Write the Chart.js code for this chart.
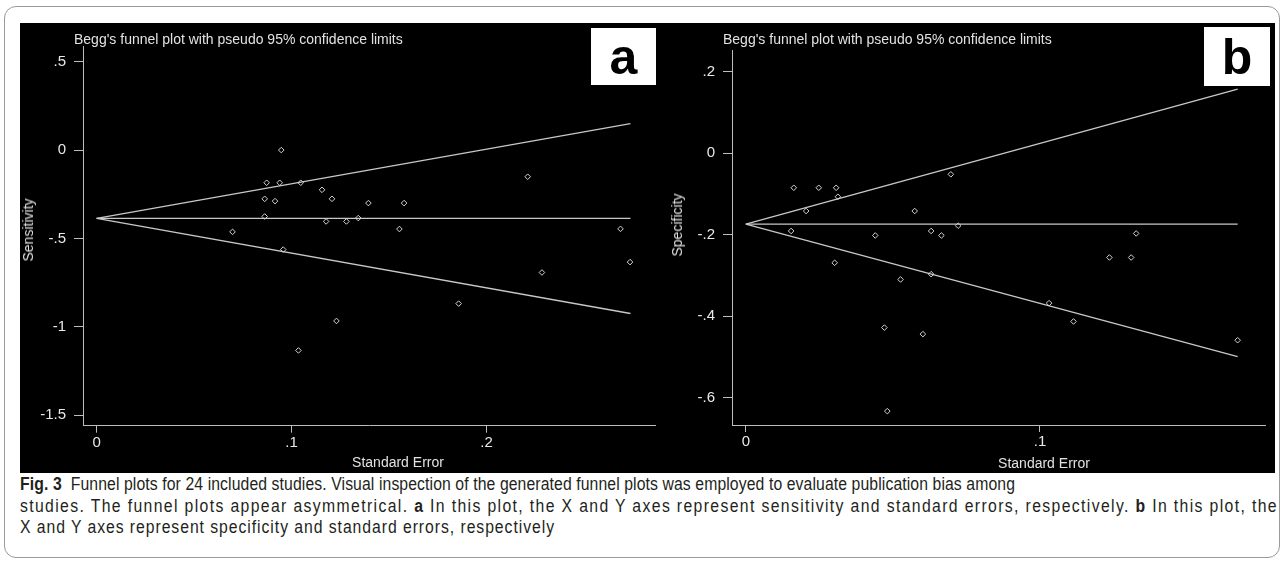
<!DOCTYPE html>
<html>
<head>
<meta charset="utf-8">
<script src="https://cdn.jsdelivr.net/npm/chart.js@4.4.0/dist/chart.umd.min.js"></script>
<style>
html, body { margin: 0; padding: 0; background: #fff; }
body { width: 1287px; height: 566px; position: relative; overflow: hidden; font-family: "Liberation Sans", Arial, sans-serif; }
#frame { position: absolute; left: 4px; top: 6px; width: 1276px; height: 552px; border: 1px solid #9a9a9a; border-radius: 12px; box-sizing: border-box; }
#figure { position: absolute; left: 20px; top: 23px; width: 1255px; height: 450px; background: #000; }
#figure canvas { position: absolute; top: 0; }
#chartA { left: 0; }
#chartB { left: 640px; }
.ptitle { position: absolute; color: #e2e2e2; font-size: 14px; line-height: 14px; white-space: nowrap; }
.xtitle { position: absolute; color: #e2e2e2; font-size: 14px; line-height: 14px; white-space: nowrap; transform: translate(-50%, -50%); }
.ytitle { position: absolute; color: #e2e2e2; font-size: 14px; line-height: 14px; white-space: nowrap; transform: translate(-50%, -50%) rotate(-90deg); }
.tag { position: absolute; background: #fff; color: #000; font-weight: bold; font-size: 50px; display: flex; align-items: center; justify-content: center; }
#caption { position: absolute; left: 20px; top: 474px; font-family: "Liberation Sans", Arial, sans-serif; font-size: 17.5px; line-height: 21.5px; color: #231f20; }
#caption .line { display: block; white-space: nowrap; width: max-content; transform-origin: 0 50%; }
</style>
</head>
<body>
<div id="frame"></div>
<div id="figure">
  <canvas id="chartA" width="640" height="450"></canvas>
  <canvas id="chartB" width="615" height="450"></canvas>
  <div class="ptitle" style="left:54px; top:9px;">Begg's funnel plot with pseudo 95% confidence limits</div>
  <div class="ptitle" style="left:703px; top:9px;">Begg's funnel plot with pseudo 95% confidence limits</div>
  <div class="tag" style="left:571px; top:5px; width:65px; height:57px;">a</div>
  <div class="tag" style="left:1184px; top:4px; width:66px; height:59px;">b</div>
  <div class="xtitle" style="left:378px; top:439px;">Standard Error</div>
  <div class="xtitle" style="left:1024px; top:440px;">Standard Error</div>
  <div class="ytitle" style="left:8px; top:207px;">Sensitivity</div>
  <div class="ytitle" style="left:657px; top:202px;">Specificity</div>
</div>
<div id="caption">
  <span class="line"><b>Fig. 3</b>&nbsp; Funnel plots for 24 included studies. Visual inspection of the generated funnel plots was employed to evaluate publication bias among</span>
  <span class="line">studies. The funnel plots appear asymmetrical. <b>a</b> In this plot, the X and Y axes represent sensitivity and standard errors, respectively. <b>b</b> In this plot, the</span>
  <span class="line">X and Y axes represent specificity and standard errors, respectively</span>
</div>
<script>
// Panel a: sensitivity vs standard error
const seA = [0.0947, 0.0872, 0.0939, 0.1047, 0.1156, 0.0862, 0.0915, 0.1207, 0.1394, 0.1577, 0.0862, 0.1177,
             0.1281, 0.1342, 0.0697, 0.0957, 0.1553, 0.1857, 0.1230, 0.2211, 0.2687, 0.2736, 0.2284, 0.1035];
const sensA = [0.000, -0.185, -0.185, -0.185, -0.225, -0.276, -0.289, -0.276, -0.300, -0.300, -0.376, -0.404,
               -0.404, -0.385, -0.463, -0.563, -0.447, -0.869, -0.967, -0.151, -0.446, -0.634, -0.693, -1.134];
const pooledA = -0.387;
const seMaxA = 0.2738;
const upperEndA = 0.150;
const lowerEndA = -0.925;
const xTicksA = [0, 0.1, 0.2];
const yTicksA = [-1.5, -1, -0.5, 0, 0.5];

// Panel b: specificity vs standard error
const seB = [0.0163, 0.0248, 0.0307, 0.0313, 0.0205, 0.0697, 0.0574, 0.0154, 0.0440, 0.0630, 0.0665, 0.0722,
             0.1327, 0.0302, 0.0526, 0.0630, 0.0471, 0.0602, 0.0481, 0.1031, 0.1114, 0.1236, 0.1310, 0.1672];
const specB = [-0.085, -0.085, -0.085, -0.107, -0.142, -0.052, -0.142, -0.191, -0.202, -0.191, -0.202, -0.178,
               -0.197, -0.269, -0.310, -0.297, -0.428, -0.444, -0.633, -0.368, -0.413, -0.256, -0.256, -0.459];
const pooledB = -0.174;
const seMaxB = 0.1672;
const upperEndB = 0.157;
const lowerEndB = -0.499;
const xTicksB = [0, 0.1];
const yTicksB = [-0.6, -0.4, -0.2, 0, 0.2];

const axisColor = '#bdbdbd';
const tickFont = { family: '"Liberation Sans", Arial, sans-serif', size: 15 };

// Stata style labels: .5, -.5, -1.5
function stataLabel(v) {
    const s = String(Math.round(v * 10) / 10);
    return s.replace(/^(-?)0\./, '$1.');
}

function limitLine(y0, y1, seMax) {
    return {
        type: 'line',
        data: [{ x: 0, y: y0 }, { x: seMax, y: y1 }],
        borderColor: '#c8c8c8',
        borderWidth: 1.3,
        pointRadius: 0,
        fill: false
    };
}

function funnelChart(id, se, vals, pooled, upperEnd, lowerEnd, seMax, xr, yr, xTicks, yTicks, box) {
    return new Chart(document.getElementById(id), {
        type: 'scatter',
        data: {
            datasets: [
                {
                    data: se.map((x, i) => ({ x: x, y: vals[i] })),
                    pointStyle: 'rectRot',
                    pointRadius: 2.8,
                    borderColor: '#d4d4d4',
                    backgroundColor: 'rgba(0,0,0,0)',
                    borderWidth: 1
                },
                limitLine(pooled, pooled, seMax),
                limitLine(pooled, upperEnd, seMax),
                limitLine(pooled, lowerEnd, seMax)
            ]
        },
        options: {
            responsive: false,
            animation: false,
            events: [],
            layout: { padding: { left: 0, top: box.top, right: box.right, bottom: 0 } },
            plugins: { legend: { display: false }, tooltip: { enabled: false } },
            scales: {
                x: {
                    type: 'linear',
                    min: xr[0],
                    max: xr[1],
                    afterBuildTicks: s => { s.ticks = xTicks.map(v => ({ value: v })); },
                    afterFit: s => { s.height = box.xh; },
                    grid: { drawOnChartArea: false, color: axisColor, tickLength: 7 },
                    border: { color: axisColor, width: 1 },
                    ticks: { color: '#e8e8e8', font: tickFont, padding: 1, maxRotation: 0, autoSkip: false, callback: v => stataLabel(v) }
                },
                y: {
                    type: 'linear',
                    min: yr[0],
                    max: yr[1],
                    afterBuildTicks: s => { s.ticks = yTicks.map(v => ({ value: v })); },
                    afterFit: s => { s.width = box.yw; },
                    grid: { drawOnChartArea: false, color: axisColor, tickLength: 9 },
                    border: { color: axisColor, width: 1 },
                    ticks: { color: '#e8e8e8', font: tickFont, padding: 8, autoSkip: false, callback: v => stataLabel(v) }
                }
            }
        }
    });
}

funnelChart('chartA', seA, sensA, pooledA, upperEndA, lowerEndA, seMaxA,
    [-0.007, 0.2864], [-1.56, 0.585], xTicksA, yTicksA,
    { top: 23.7, right: 2, xh: 47.3, yw: 63 });

funnelChart('chartB', seB, specB, pooledB, upperEndB, lowerEndB, seMaxB,
    [-0.0047, 0.1765], [-0.667, 0.253], xTicksB, yTicksB,
    { top: 27, right: 10, xh: 48, yw: 72 });

// caption: same horizontal squeeze on every line (condensed look),
// then letter spacing to reach each reference line length
const captionSqueeze = 0.9;
const captionWidths = [995, 1258, 535];
document.querySelectorAll('#caption .line').forEach((el, i) => {
    const w = el.getBoundingClientRect().width;
    const n = el.textContent.length;
    el.style.letterSpacing = ((captionWidths[i] / captionSqueeze - w) / n) + 'px';
    el.style.transform = 'scaleX(' + captionSqueeze + ')';
});
</script>
</body>
</html>
